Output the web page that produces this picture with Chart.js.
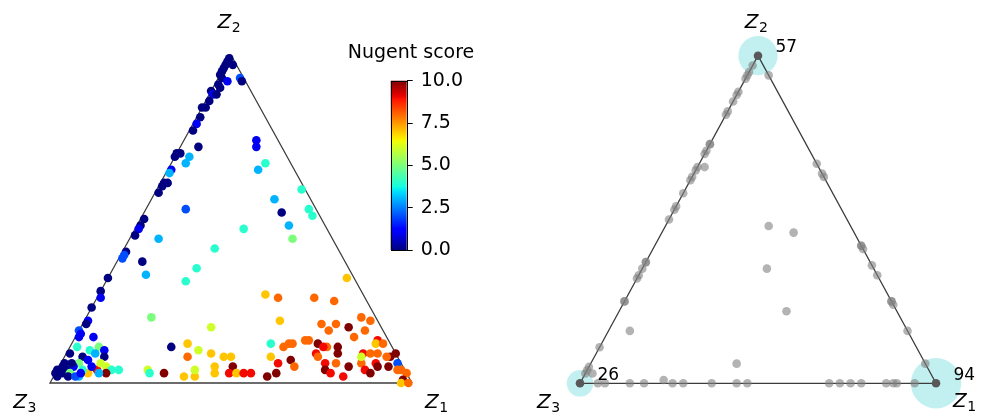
<!DOCTYPE html>
<html><head><meta charset="utf-8">
<script src="https://cdn.jsdelivr.net/npm/chart.js@4/dist/chart.umd.min.js"></script>
<style>
html,body{margin:0;padding:0;background:#fff;width:981px;height:412px;overflow:hidden}
canvas{position:absolute;display:block}
</style></head><body>
<canvas id="left" width="500" height="412" style="left:0;top:0"></canvas>
<canvas id="right" width="481" height="412" style="left:500px;top:0"></canvas>
<canvas id="cbar" width="140" height="240" style="left:340px;top:30px"></canvas>
<script>
// ---------- data: left panel (Z1, Z2 fractions; Z3 = 1 - Z1 - Z2) ----------
const leftZ1 = [0.00,0.00,0.00,0.02,0.00,0.00,0.00,0.01,0.03,0.06,0.07,0.01,0.02,0.00,0.01,0.02,0.01,0.01,0.00,0.01,
 0.01,0.01,0.05,0.01,0.00,0.00,0.04,0.04,0.01,0.01,0.02,0.01,0.01,0.01,0.11,0.20,0.21,0.26,0.25,0.40,
 0.34,0.38,0.45,0.47,0.01,0.01,0.01,0.01,0.08,0.25,0.01,0.01,0.01,0.07,0.10,0.23,0.22,0.00,0.00,0.01,
 0.00,0.18,0.36,0.01,0.01,0.00,0.01,0.05,0.02,0.28,0.32,0.36,0.34,0.40,0.44,0.46,0.25,0.26,0.30,0.36,
 0.39,0.38,0.43,0.44,0.48,0.48,0.50,0.52,0.54,0.59,0.61,0.60,0.63,0.65,0.55,0.57,0.13,0.15,0.17,0.14,
 0.11,0.12,0.09,0.07,0.01,0.01,0.08,0.10,0.06,0.08,0.11,0.05,0.07,0.05,0.11,0.09,0.01,0.01,0.02,0.00,
 0.03,0.00,0.04,0.07,0.02,0.04,0.04,0.06,0.03,0.07,0.01,0.30,0.42,0.45,0.66,0.46,0.50,0.60,0.66,0.54,
 0.66,0.70,0.69,0.74,0.76,0.79,0.79,0.77,0.59,0.60,0.61,0.64,0.65,0.68,0.71,0.74,0.69,0.75,0.70,0.76,
 0.73,0.74,0.76,0.80,0.80,0.83,0.82,0.82,0.84,0.86,0.84,0.84,0.86,0.87,0.85,0.87,0.88,0.91,0.90,0.91,
 0.89,0.93,0.94,0.95,0.97,0.97,0.97,0.99,0.70];
const leftZ2 = [0.99,0.98,0.97,0.97,0.96,0.95,0.94,0.93,0.92,0.93,0.92,0.91,0.90,0.89,0.88,0.88,0.86,0.84,0.84,0.81,
 0.79,0.77,0.72,0.70,0.70,0.69,0.69,0.67,0.65,0.64,0.61,0.61,0.60,0.58,0.53,0.74,0.72,0.67,0.65,0.59,
 0.56,0.52,0.53,0.51,0.50,0.48,0.47,0.45,0.44,0.41,0.40,0.39,0.38,0.37,0.33,0.35,0.31,0.32,0.28,0.26,
 0.23,0.20,0.17,0.19,0.18,0.16,0.14,0.14,0.11,0.11,0.12,0.10,0.08,0.09,0.08,0.08,0.04,0.03,0.03,0.02,
 0.02,0.04,0.05,0.03,0.05,0.03,0.03,0.03,0.03,0.02,0.03,0.06,0.07,0.05,0.12,0.08,0.05,0.04,0.04,0.03,
 0.04,0.03,0.03,0.02,0.15,0.09,0.11,0.10,0.10,0.09,0.08,0.08,0.07,0.06,0.06,0.05,0.06,0.05,0.04,0.04,
 0.04,0.03,0.05,0.04,0.03,0.03,0.02,0.02,0.06,0.03,0.02,0.47,0.48,0.44,0.32,0.27,0.26,0.26,0.25,0.19,
 0.18,0.18,0.16,0.17,0.20,0.19,0.16,0.14,0.11,0.12,0.12,0.13,0.13,0.12,0.11,0.11,0.09,0.09,0.08,0.06,
 0.06,0.04,0.03,0.05,0.02,0.06,0.09,0.08,0.09,0.09,0.13,0.12,0.12,0.06,0.04,0.03,0.05,0.05,0.08,0.09,
 0.08,0.06,0.04,0.04,0.03,0.01,0.00,0.00,0.11];
const nugentScore = [0,0,0,0,0,0,0,0,1,2,0,0,0,0,1,0,0,0,0,0,
 1,0,0,0,0,0,3,3,1,3,0,0,0,0,2,1,1,4,3,4,
 3,0,4,4,0,0,1,0,3,4,0,2,2,0,3,4,4,0,0,1,
 0,5,6,1,0,2,1,1,4,0,7,6,8,7,7,7,6,4,10,7,
 7,6,7,7,10,9,7,9,9,10,10,9,10,8,4,7,6,4,4,10,
 9,3,7,3,1,0,5,1,4,3,0,0,1,5,6,1,0,0,0,0,
 0,0,1,4,0,5,0,2,0,1,0,4,3,5,7,7,8,8,8,7,
 8,8,8,10,8,8,8,8,8,8,8,8,8,10,8,10,9,10,8,8,
 9,10,9,10,9,8,9,6,8,8,9,7,8,9,9,10,10,10,10,10,
 8,2,8,8,8,10,7,8,9];
const colorbarTicks = [0, 2.5, 5, 7.5, 10];
const colorbarLabel = 'Nugent score';

// ---------- data: right panel ----------
const rightZ1 = [0,0,0,0,0,0,0,0,0,0,0,0,0,0,0,0,0,0,0,0,0,0,0,0,0,0,0,0,0,0,0.02,0,0,
 0.06,0.33,0.36,0.37,0.58,0.58,0.59,0.64,0.67,0.75,0.75,0.76,0.84,0.94,
 0.05,0.07,0.14,0.18,0.26,0.29,0.37,0.44,0.47,0.70,0.73,0.76,0.79,0.86,0.88,0.89,0.94,
 0.23,0.41,0.02,0.29,0.37,0.35,0.47,0.06];
const rightZ2 = [0.97,0.95,0.94,0.93,0.89,0.88,0.86,0.83,0.82,0.73,0.73,0.71,0.70,0.66,0.65,0.63,0.62,0.58,0.54,0.53,0.50,0.37,0.37,0.35,0.33,0.32,0.25,0.25,0.11,0.05,0.03,0.04,0.03,
 0.94,0.67,0.64,0.63,0.42,0.42,0.41,0.36,0.33,0.25,0.25,0.24,0.16,0.06,
 0,0,0,0,0,0,0,0,0,0,0,0,0,0,0,0,0,
 0.01,0.06,0.66,0.48,0.46,0.35,0.22,0.16];
const vertexZ1 = [1, 0, 0];
const vertexZ2 = [0, 1, 0];
const vertexNames = ['1', '2', '3'];
const vertexCounts = [94, 57, 26];

// ---------- helpers ----------
const toXY = (z1, z2) => ({ x: z1 + z2 / 2, y: z2 });
function seg(pts, t) {
  for (let i = 1; i < pts.length; i++) {
    if (t <= pts[i][0]) {
      const [x0, y0] = pts[i - 1], [x1, y1] = pts[i];
      return y0 + (y1 - y0) * (t - x0) / (x1 - x0);
    }
  }
  return pts[pts.length - 1][1];
}
function jet(t, a) {
  t = Math.max(0, Math.min(1, t));
  const r = seg([[0,0],[0.35,0],[0.66,1],[0.89,1],[1,0.5]], t);
  const g = seg([[0,0],[0.125,0],[0.375,1],[0.64,1],[0.91,0],[1,0]], t);
  const b = seg([[0,0.5],[0.11,1],[0.34,1],[0.65,0],[1,0]], t);
  return `rgba(${Math.round(r*255)},${Math.round(g*255)},${Math.round(b*255)},${a===undefined?1:a})`;
}
const triangle = [0,1,2,0].map(i => toXY(vertexZ1[i], vertexZ2[i]));
const FONT = "'DejaVu Sans', sans-serif";

function labelPlugin(zOffsets, showCounts) {
  return {
    id: 'labels' + (showCounts ? 'R' : 'L'),
    afterDraw(chart) {
      const ctx = chart.ctx, sx = chart.scales.x, sy = chart.scales.y;
      ctx.save();
      ctx.fillStyle = '#000';
      ctx.textBaseline = 'alphabetic';
      ctx.textAlign = 'left';
      vertexNames.forEach((nm, i) => {
        const p = toXY(vertexZ1[i], vertexZ2[i]);
        const px = sx.getPixelForValue(p.x), py = sy.getPixelForValue(p.y);
        const [dx, dy] = zOffsets[i];
        ctx.font = 'italic 20px ' + FONT;
        ctx.fillText('Z', px + dx, py + dy);
        const w = ctx.measureText('Z').width;
        ctx.font = '14px ' + FONT;
        ctx.fillText(nm, px + dx + w + 0.5, py + dy + 4);
        if (showCounts) {
          ctx.font = '17px ' + FONT;
          ctx.fillText(String(vertexCounts[i]), px + 17.5, py - 3.5);
        }
      });
      ctx.restore();
    }
  };
}

function baseOptions(xmin, xmax, ymin, ymax) {
  return {
    responsive: false, devicePixelRatio: 1, animation: false, events: [],
    layout: { padding: 0, autoPadding: false },
    scales: {
      x: { type: 'linear', min: xmin, max: xmax, display: false },
      y: { type: 'linear', min: ymin, max: ymax, display: false }
    },
    plugins: { legend: { display: false }, tooltip: { enabled: false }, title: { display: false } }
  };
}

// ---------- left panel ----------
new Chart(document.getElementById('left'), {
  type: 'scatter',
  data: { datasets: [
    { data: leftZ1.map((a, i) => toXY(a, leftZ2[i])),
      pointBackgroundColor: nugentScore.map(s => jet(s / 10)),
      pointRadius: 4.3, pointBorderWidth: 0, order: 1, clip: false },
    { data: triangle, showLine: true, borderColor: '#3c3c3c', borderWidth: 1.3,
      pointRadius: 0, fill: false, tension: 0, order: 2 }
  ]},
  options: baseOptions(-50/362, -50/362 + 500/362, -29/328, 1 + 55/328),
  plugins: [labelPlugin([[13, 25.3], [-13.4, -26.7], [-36.7, 25.3]], false)]
});

// ---------- right panel ----------
new Chart(document.getElementById('right'), {
  type: 'scatter',
  data: { datasets: [
    { type: 'bubble',
      data: vertexCounts.map((n, i) => ({ ...toXY(vertexZ1[i], vertexZ2[i]), r: 2.6 * Math.sqrt(n) })),
      backgroundColor: 'rgba(0,191,191,0.24)', borderWidth: 0, order: 4, clip: false },
    { data: triangle, showLine: true, borderColor: '#3c3c3c', borderWidth: 1.3,
      pointRadius: 0, fill: false, tension: 0, order: 3 },
    { data: rightZ1.map((a, i) => toXY(a, rightZ2[i])),
      pointBackgroundColor: 'rgba(128,128,128,0.6)', pointRadius: 4.3, pointBorderWidth: 0, order: 2, clip: false },
    { data: vertexZ1.map((a, i) => toXY(a, vertexZ2[i])),
      pointBackgroundColor: 'rgb(88,88,88)', pointRadius: 4.3, pointBorderWidth: 0, order: 1, clip: false }
  ]},
  options: baseOptions(-80/356, -80/356 + 481/356, -28.7/327.6, 1 + 55.7/327.6),
  plugins: [labelPlugin([[17, 23.7], [-13.3, -27.4], [-43, 24.7]], true)]
});

// ---------- colour bar ----------
new Chart(document.getElementById('cbar'), {
  type: 'scatter',
  data: { datasets: [{ data: [] }] },
  options: {
    responsive: false, devicePixelRatio: 1, animation: false, events: [],
    layout: { padding: { left: 50.7, right: 0, top: 50.7, bottom: 20 }, autoPadding: false },
    scales: {
      x: { display: false, min: 0, max: 1 },
      y: { position: 'right', min: 0, max: 10,
           afterBuildTicks: s => { s.ticks = colorbarTicks.map(v => ({ value: v })); },
           afterFit: s => { s.width = 73.3; },
           ticks: { callback: v => Number(v).toFixed(1), color: '#000', padding: 8,
                    font: { family: FONT, size: 19 } },
           grid: { display: true, drawOnChartArea: false, drawTicks: true, tickLength: 6,
                   color: '#000', tickColor: '#000', lineWidth: 1 },
           border: { display: false } }
    },
    plugins: { legend: { display: false }, tooltip: { enabled: false } }
  },
  plugins: [{
    id: 'cbarFill',
    beforeDatasetsDraw(chart) {
      const { ctx, chartArea: a } = chart;
      const g = ctx.createLinearGradient(0, a.bottom, 0, a.top);
      for (let i = 0; i <= 64; i++) g.addColorStop(i / 64, jet(i / 64));
      ctx.save();
      ctx.fillStyle = g;
      ctx.fillRect(a.left, a.top, a.right - a.left, a.bottom - a.top);
      ctx.strokeStyle = '#000'; ctx.lineWidth = 1;
      ctx.strokeRect(Math.round(a.left) + 0.5, Math.round(a.top) + 0.5,
                     Math.round(a.right - a.left), Math.round(a.bottom - a.top));
      ctx.fillStyle = '#000';
      ctx.font = '19px ' + FONT;
      ctx.textAlign = 'center'; ctx.textBaseline = 'alphabetic';
      ctx.fillText(colorbarLabel, 71, 27.7);
      ctx.restore();
    }
  }]
});
</script>
</body></html>
